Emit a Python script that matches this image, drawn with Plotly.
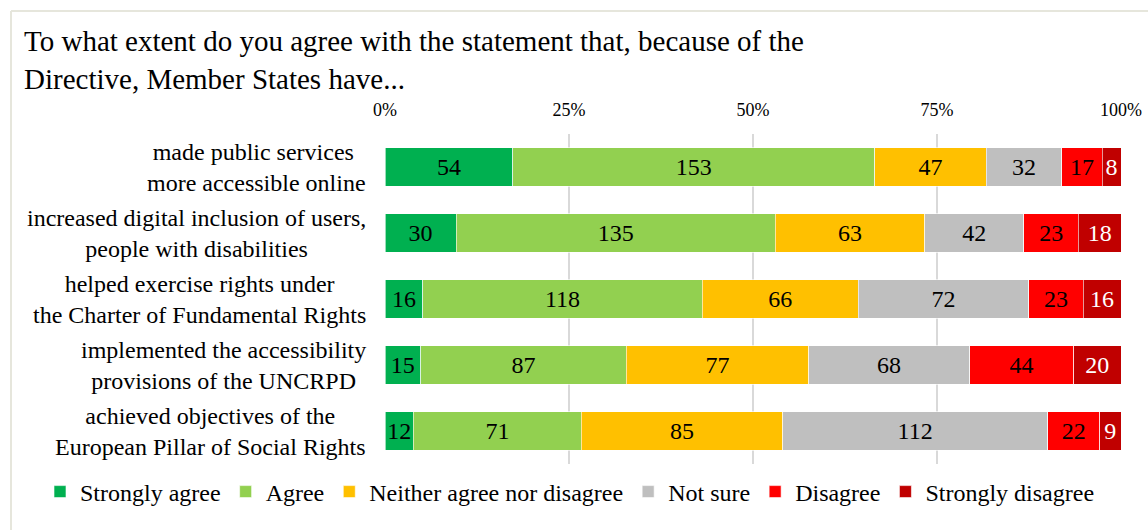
import plotly.graph_objects as go

# ---- data ----
categories = [
    "made public services <br>more accessible online",
    "increased digital inclusion of users,<br>people with disabilities",
    "helped exercise rights under<br>the Charter of Fundamental Rights",
    "implemented the accessibility<br>provisions of the UNCRPD",
    "achieved objectives of the<br>European Pillar of Social Rights",
]
cat_keys = ["c1", "c2", "c3", "c4", "c5"]
series_names = ["Strongly agree", "Agree", "Neither agree nor disagree",
                "Not sure", "Disagree", "Strongly disagree"]
strongly_agree = [54, 30, 16, 15, 12]
agree = [153, 135, 118, 87, 71]
neither = [47, 63, 66, 77, 85]
not_sure = [32, 42, 72, 68, 112]
disagree = [17, 23, 23, 44, 22]
strongly_disagree = [8, 18, 16, 20, 9]
tick_vals = [0, 25, 50, 75, 100]
tick_text = ["0%", "25%", "50%", "75%", "100%"]
title_text = ("To what extent do you agree with the statement that, because of the<br>"
              "Directive, Member States have...")

series_values = [strongly_agree, agree, neither, not_sure, disagree, strongly_disagree]
colors = ["#00B050", "#92D050", "#FFC000", "#BFBFBF", "#FF0000", "#C00000"]
text_colors = ["black", "black", "black", "black", "black", "white"]

FONT = "Liberation Serif, Times New Roman, serif"
W, H = 1148, 530
L, R, T, B = 385, 27, 134, 66
PW, PH = W - L - R, H - T - B


def px_x(px):
    return (px - L) / PW


def px_y(py):
    return (H - B - py) / PH


fig = go.Figure()
for name, vals, col, tcol in zip(series_names, series_values, colors, text_colors):
    fig.add_trace(go.Bar(
        name=name, y=cat_keys, x=vals, orientation="h",
        marker=dict(color=col, line=dict(color="white", width=0.6)),
        text=[str(v) for v in vals], textposition="inside",
        insidetextanchor="middle", textangle=0,
        textfont=dict(family=FONT, size=24, color=tcol),
        hoverinfo="skip",
    ))

annotations = [dict(
    text=title_text, xref="paper", yref="paper", x=px_x(22), y=px_y(60),
    xanchor="left", yanchor="middle", align="left", showarrow=False,
    font=dict(family=FONT, size=29, color="black"),
)]
for key, lab in zip(cat_keys, categories):
    annotations.append(dict(
        text=lab, xref="paper", yref="y", x=px_x(368), y=key,
        xanchor="right", yanchor="middle", align="center", showarrow=False,
        font=dict(family=FONT, size=24, color="black"),
    ))

border = "#E6E6DC"
shapes = [
    dict(type="line", xref="paper", yref="paper", x0=px_x(11), x1=px_x(11),
         y0=px_y(11), y1=px_y(535), line=dict(color=border, width=2)),
    dict(type="line", xref="paper", yref="paper", x0=px_x(11), x1=px_x(1155),
         y0=px_y(11), y1=px_y(11), line=dict(color=border, width=2)),
]

fig.update_layout(
    width=W, height=H,
    margin=dict(l=L, r=R, t=T, b=B, autoexpand=False),
    barmode="stack", barnorm="percent", bargap=0.41,
    paper_bgcolor="white", plot_bgcolor="white",
    font=dict(family=FONT, color="black"),
    uniformtext=dict(minsize=24, mode="show"),
    showlegend=True,
    legend=dict(orientation="h", xref="paper", yref="paper",
                x=px_x(40), y=px_y(492), xanchor="left", yanchor="middle",
                font=dict(family=FONT, size=24, color="black"),
                itemwidth=30, traceorder="normal", bgcolor="rgba(0,0,0,0)"),
    annotations=annotations, shapes=shapes,
)
fig.update_xaxes(side="top", range=[0, 100], tickvals=tick_vals, ticktext=tick_text,
                 showgrid=True, gridcolor="#D9D9D9", gridwidth=2, zeroline=False,
                 ticks="outside", ticklen=10, tickcolor="rgba(0,0,0,0)",
                 tickfont=dict(family=FONT, size=18, color="black"),
                 showline=False, fixedrange=True)
fig.update_yaxes(categoryorder="array", categoryarray=cat_keys, autorange="reversed",
                 showticklabels=False, showgrid=False, zeroline=False, showline=False,
                 fixedrange=True)

fig.write_html("out.html", config={"displayModeBar": False},
               post_script="document.body.style.margin='0';document.body.style.overflow='hidden';")
